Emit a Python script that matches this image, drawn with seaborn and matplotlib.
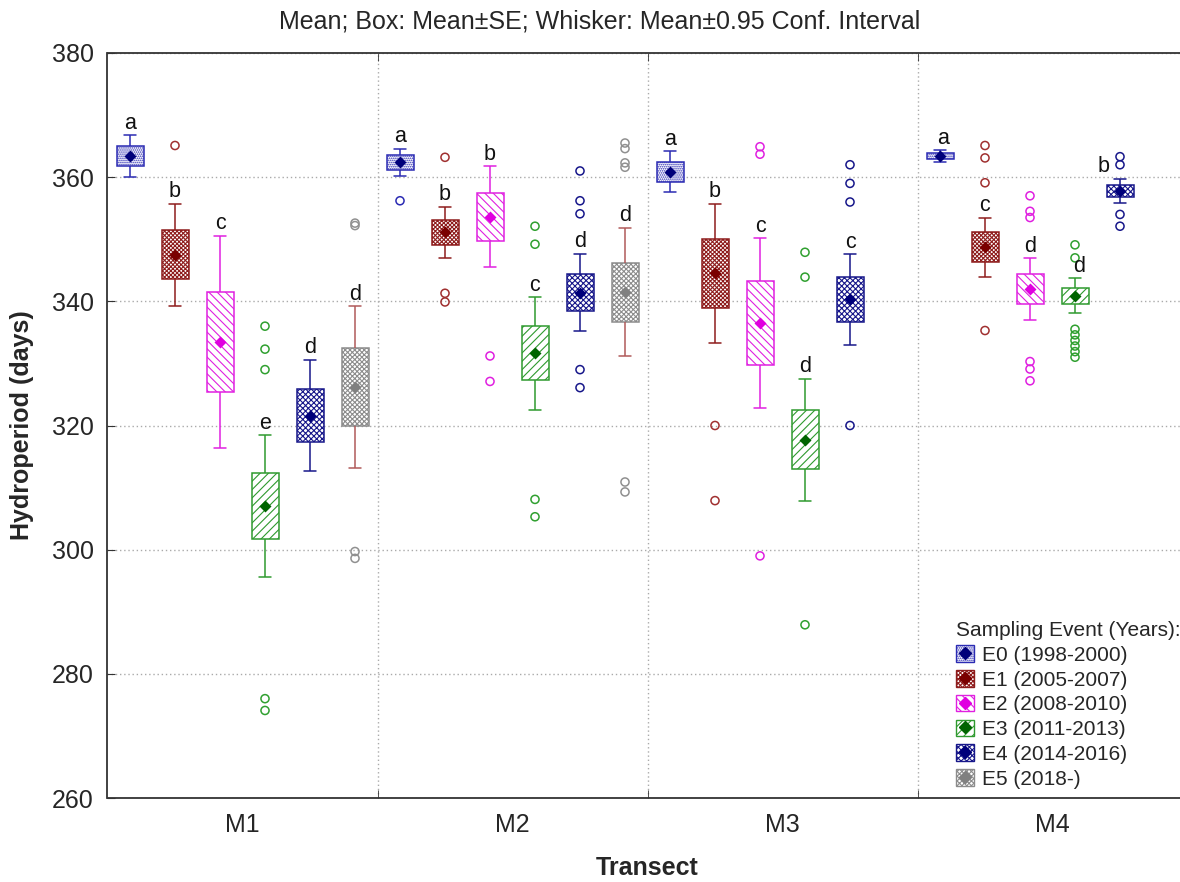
#! /usr/bin/env python3

# libraries
import matplotlib
matplotlib.use("Agg")
import matplotlib.pyplot as plt
from matplotlib.patches import Patch
from matplotlib.lines import Line2D
import numpy as np
import pandas as pd
import seaborn as sns

sns.set_style("white")
plt.rcParams["font.family"] = ["Liberation Sans", "DejaVu Sans"]
plt.rcParams["hatch.linewidth"] = 0.8

transects = ["M1", "M2", "M3", "M4"]
events = [
    "E0 (1998-2000)",
    "E1 (2005-2007)",
    "E2 (2008-2010)",
    "E3 (2011-2013)",
    "E4 (2014-2016)",
    "E5 (2018-)",
]

# rows = events, columns = transects (nan = not sampled)
means = [
    [363.4, 362.4, 360.9, 363.4],
    [347.5, 351.1, 344.5, 348.7],
    [333.5, 353.6, 336.5, 342.0],
    [307.0, 331.6, 317.7, 340.9],
    [321.6, 341.4, 340.3, 357.8],
    [326.2, 341.5, np.nan, np.nan],
]
# standard error -> box half height
se = [
    [1.6, 1.2, 1.6, 0.55],
    [3.95, 2.0, 5.55, 2.4],
    [8.05, 3.9, 6.7, 2.4],
    [5.3, 4.35, 4.75, 1.3],
    [4.25, 2.95, 3.65, 0.95],
    [6.25, 4.75, np.nan, np.nan],
]
# 0.95 conf. interval half width -> whiskers
ci = [
    [3.4, 2.2, 3.3, 0.9],
    [8.25, 4.15, 11.25, 4.75],
    [17.1, 8.15, 13.7, 4.95],
    [11.4, 9.1, 9.85, 2.8],
    [9.0, 6.25, 7.3, 1.95],
    [13.0, 10.35, np.nan, np.nan],
]
# group letters above the whiskers
letters = [
    ["a", "a", "a", "a"],
    ["b", "b", "b", "c"],
    ["c", "b", "c", "d"],
    ["e", "c", "d", "d"],
    ["d", "d", "c", "b"],
    ["d", "d", "", ""],
]
# single observations drawn as open circles
outliers = [
    [[], [356.2], [], []],
    [[365.1], [363.2, 341.3, 339.9], [320.0, 307.9], [365.1, 363.1, 359.1, 335.3]],
    [[], [331.2, 327.1], [364.9, 363.7, 299.0],
     [357.0, 354.5, 353.5, 330.3, 329.1, 327.2]],
    [[336.0, 332.3, 329.0, 276.0, 274.1], [352.1, 349.2, 308.1, 305.3],
     [347.9, 343.9, 287.9], [349.1, 347.0, 335.5, 334.6, 333.7, 332.8, 331.9, 331.0]],
    [[], [361.0, 356.2, 354.1, 329.0, 326.1], [362.0, 359.0, 356.0, 320.0],
     [363.3, 362.0, 354.0, 352.1]],
    [[352.6, 352.2, 299.7, 298.6], [365.5, 364.6, 362.3, 361.6, 310.9, 309.3], [], []],
]

edge_colors = ["#2b2bb3", "#8e1c1c", "#e020e0", "#2f9a2f", "#17178a", "#8c8c8c"]
mean_colors = ["#00007a", "#7a0000", "#e000e0", "#006400", "#00007a", "#808080"]
flier_colors = ["#2b2bb3", "#a03030", "#e020e0", "#30a030", "#17178a", "#909090"]
hatches = ["........", "xxxxxxxx", "\\\\\\\\", "////", "xxxxxx", "xxxxxxx"]
whisker_colors = edge_colors[:5] + ["#b05a5a"]

# long tables for seaborn
box_rows, mean_rows, out_rows = [], [], []
for i, ev in enumerate(events):
    for j, tr in enumerate(transects):
        m = means[i][j]
        if np.isnan(m):
            continue
        # 5 points -> whisker lo, box lo, mean, box hi, whisker hi
        for v in (m - ci[i][j], m - se[i][j], m, m + se[i][j], m + ci[i][j]):
            box_rows.append({"transect": tr, "event": ev, "value": v})
        mean_rows.append({"transect": tr, "event": ev, "value": m})
        for v in outliers[i][j]:
            out_rows.append(
                {"event": ev, "pos": j + (i - 2.5) / 6, "value": v}
            )
df_box = pd.DataFrame(box_rows)
df_mean = pd.DataFrame(mean_rows)
df_out = pd.DataFrame(out_rows)

fig = plt.figure(figsize=(11.8, 8.82), dpi=100)
ax = fig.add_axes([107.5 / 1180, 84 / 882, 1080 / 1180, 745 / 882])

for i, ev in enumerate(events):
    sns.boxplot(
        data=df_box[df_box["event"] == ev],
        x="transect",
        y="value",
        hue="event",
        order=transects,
        hue_order=events,
        palette=dict(zip(events, ["white"] * 6)),
        dodge=True,
        width=1.0,
        gap=0.4,
        whis=(0, 100),
        showfliers=False,
        linecolor=edge_colors[i],
        linewidth=1.1,
        boxprops={"hatch": hatches[i]},
        medianprops={"visible": False},
        whiskerprops={"color": whisker_colors[i]},
        capprops={"color": whisker_colors[i]},
        capwidths=0.045,
        legend=False,
        ax=ax,
    )

sns.pointplot(
    data=df_mean,
    x="transect",
    y="value",
    hue="event",
    order=transects,
    hue_order=events,
    palette=dict(zip(events, mean_colors)),
    dodge=5 / 6,
    errorbar=None,
    marker="D",
    markersize=4,
    linestyle="none",
    legend=False,
    ax=ax,
)

for i, ev in enumerate(events):
    sub = df_out[df_out["event"] == ev]
    if sub.empty:
        continue
    sns.scatterplot(
        data=sub,
        x="pos",
        y="value",
        marker="o",
        s=34,
        facecolor="none",
        edgecolor=flier_colors[i],
        linewidth=1.1,
        zorder=3,
        ax=ax,
    )

# letters; a couple are nudged sideways as in the original
nudge = {(3, 3): 3, (4, 3): -12, (0, 3): 2}
for i in range(len(events)):
    for j in range(len(transects)):
        if not letters[i][j]:
            continue
        ax.annotate(
            letters[i][j],
            (j + (i - 2.5) / 6, means[i][j] + ci[i][j]),
            xytext=(nudge.get((i, j), 0), 1),
            textcoords="offset points",
            ha="center",
            va="bottom",
            fontsize=15.5,
            color="#111111",
        )

# axes cosmetics
ax.set_xlim(-0.5, 3.5)
ax.set_ylim(260, 380)
ax.set_yticks(np.arange(260, 381, 20))
ax.set_xticks([0.5, 1.5, 2.5], minor=True)
ax.grid(axis="y", ls=(0, (1, 2)), color="#aaaaaa", lw=1)
for xb in [0.5, 1.5, 2.5]:
    ax.axvline(xb, ls=(0, (1, 2)), color="#aaaaaa", lw=1, zorder=0)
ax.tick_params(axis="x", which="major", length=0, pad=11, labelsize=18)
ax.tick_params(axis="x", which="minor", direction="in", length=6,
               top=True, bottom=True, color="#333333")
ax.tick_params(axis="y", direction="in", length=6, left=True, pad=10,
               labelsize=18, color="#333333")
for sp in ax.spines.values():
    sp.set_color("#333333")
    sp.set_linewidth(1.3)

ax.set_xlabel("Transect", fontsize=18, fontweight="bold")
ax.set_ylabel("Hydroperiod (days)", fontsize=18, fontweight="bold")
ax.xaxis.set_label_coords(0.5, -0.094)
ax.xaxis.label.set_verticalalignment("center")
ax.yaxis.set_label_coords((22 - 107.5) / 1080, 0.5)
ax.yaxis.label.set_verticalalignment("center")

fig.text(600 / 1180, 1 - 21 / 882,
         "Mean; Box: Mean±SE; Whisker: Mean±0.95 Conf. Interval",
         ha="center", va="center", fontsize=18)

# legend: hatched square + mean diamond
handles = [
    (
        Patch(facecolor="white", edgecolor=edge_colors[i], hatch=hatches[i], lw=1),
        Line2D([], [], marker="D", color=mean_colors[i], ls="none", ms=6),
    )
    for i in range(len(events))
]
leg = ax.legend(
    handles,
    events,
    title="Sampling Event (Years):",
    loc="upper left",
    bbox_to_anchor=(952 / 1180, 1 - 617 / 882),
    bbox_transform=fig.transFigure,
    frameon=True,
    framealpha=1,
    edgecolor="none",
    fancybox=False,
    fontsize=15,
    title_fontsize=15,
    alignment="left",
    handlelength=0.85,
    handleheight=0.85,
    handletextpad=0.4,
    labelspacing=0.25,
    borderpad=0.2,
    borderaxespad=0,
)

plt.savefig("out.png", dpi=100)
